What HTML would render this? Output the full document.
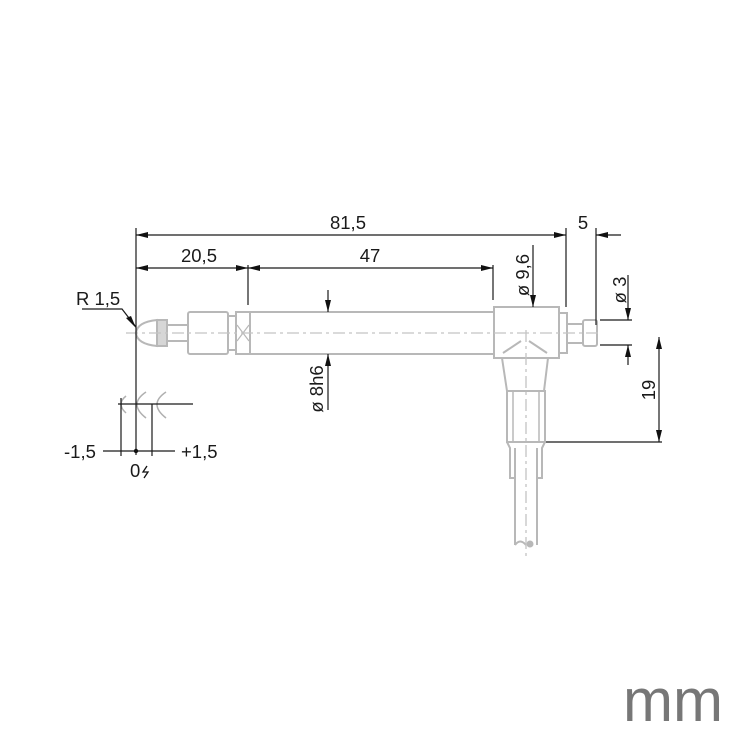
<!DOCTYPE html>
<html><head><meta charset="utf-8"><style>
html,body{margin:0;padding:0;background:#fff;width:750px;height:750px;overflow:hidden}
svg{display:block}
text{font-family:"Liberation Sans",Arial,sans-serif;fill:#1a1a1a}
</style></head><body>
<svg width="750" height="750" viewBox="0 0 750 750">
<defs>
<marker id="a" viewBox="0 0 12 6" refX="12" refY="3" markerWidth="12" markerHeight="6" orient="auto-start-reverse" markerUnits="userSpaceOnUse"><path d="M0,0 L12,3 L0,6 z" fill="#111"/></marker>
</defs>
<g stroke="#b8b8b8" stroke-width="2" fill="#fff">
<path d="M136,333 Q137,322 157,320 L157,346 Q137,344 136,333 z"/>
<rect x="157" y="320" width="10" height="26" fill="#d6d6d6"/>
<rect x="167" y="325" width="21" height="16"/>
<rect x="188" y="312" width="40" height="42" rx="2"/>
<rect x="228" y="316" width="8" height="34"/>
<rect x="236" y="312" width="14" height="42"/>
<path d="M237,325 L249,341 M249,325 L237,341" stroke-width="1.2"/>
<rect x="250" y="312" width="244" height="42"/>
<path d="M502,358 L548,358 L544,391 L507,391 z"/>
<rect x="507" y="391" width="38" height="51"/>
<path d="M513,391 V442 M539,391 V442" stroke-width="1.5"/>
<path d="M507,442 L510,448 V478 H515 V448 M545,442 L542,448 V478 H537 V448"/>
<path d="M515,448 V545 M537,448 V545" />
<path d="M515,545 Q520,538 526,545" fill="none"/>
<circle cx="530" cy="544" r="3.5" fill="#b8b8b8" stroke="none"/>
<rect x="494" y="307" width="65" height="51"/>
<path d="M503,353 L521,341 M529,341 L547,353" />
<rect x="559" y="313" width="8" height="40"/>
<rect x="567" y="324" width="16" height="19"/>
<rect x="583" y="320" width="14" height="26" rx="2"/>
</g>
<g stroke="#c4c4c4" stroke-width="1.3" stroke-dasharray="12,4,3,4" fill="none">
<path d="M126,333 H600"/>
<path d="M526,330 V560"/>
</g>
<g stroke="#b0b0b0" stroke-width="1.5" fill="none">
<path d="M126,396 Q116,404 126,413"/>
<path d="M146,392 Q128,404 146,418"/>
<path d="M166,392 Q148,404 166,418"/>
</g>
<g stroke="#1a1a1a" stroke-width="1.2" fill="none">
<path d="M136,228 V455"/>
<path d="M248,265 V305"/>
<path d="M493,265 V300"/>
<path d="M566,228 V307"/>
<path d="M596,228 V325"/>
<path d="M136,235 H566" marker-start="url(#a)" marker-end="url(#a)"/>
<path d="M621,235 H596" marker-end="url(#a)"/>
<path d="M136,268 H248" marker-start="url(#a)" marker-end="url(#a)"/>
<path d="M248,268 H493" marker-start="url(#a)" marker-end="url(#a)"/>
<path d="M533,245 V307" marker-end="url(#a)"/>
<path d="M328,290 V312" marker-end="url(#a)"/>
<path d="M328,410 V354" marker-end="url(#a)"/>
<path d="M600,320 H632 M600,345 H632"/>
<path d="M628,275 V320" marker-end="url(#a)"/>
<path d="M628,365 V345" marker-end="url(#a)"/>
<path d="M659,337 V442" marker-start="url(#a)" marker-end="url(#a)"/>
<path d="M546,442 H662"/>
<path d="M82,309 H122 L136,327" />
<path d="M118,404 H193"/>
<path d="M121,398 V456 M152,404 V456"/>
<path d="M103,451 H175"/>
</g>
<path d="M136,328 L126,318 L131,316 z" fill="#111"/>
<circle cx="136" cy="451" r="2.2" fill="#111"/>
<g font-size="18.5">
<text x="348" y="229" text-anchor="middle">81,5</text>
<text x="199" y="262" text-anchor="middle">20,5</text>
<text x="370" y="262" text-anchor="middle">47</text>
<text x="583" y="229" text-anchor="middle">5</text>
<text x="76" y="305">R 1,5</text>
<text x="64" y="458">-1,5</text>
<text x="181" y="458">+1,5</text>
<text x="130" y="477">0</text>
<text transform="translate(529,275) rotate(-90)" text-anchor="middle">ø 9,6</text>
<text transform="translate(323,389) rotate(-90)" text-anchor="middle">ø 8h6</text>
<text transform="translate(626,290) rotate(-90)" text-anchor="middle">ø 3</text>
<text transform="translate(655,390) rotate(-90)" text-anchor="middle">19</text>
</g>
<path d="M147,466 L143,472 L148,472 L144,478" stroke="#111" stroke-width="1.3" fill="none"/>
<text x="623" y="721" font-size="60" style="fill:#777">mm</text>
</svg>
</body></html>
